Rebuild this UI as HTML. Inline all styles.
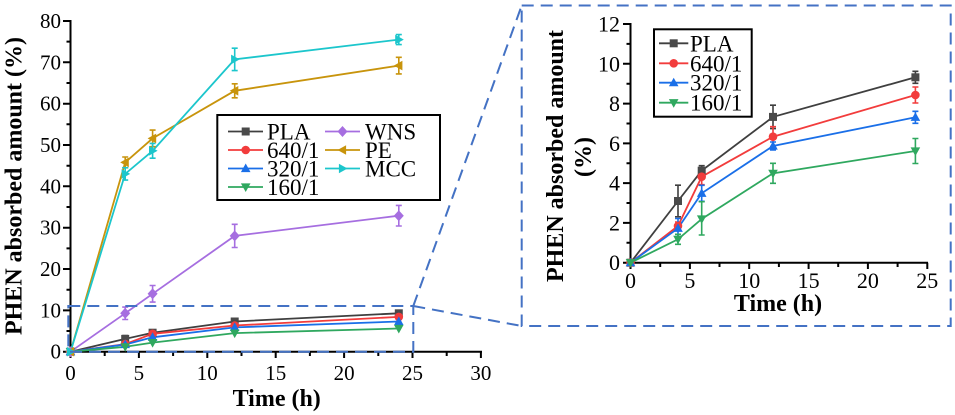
<!DOCTYPE html>
<html><head><meta charset="utf-8"><style>
html,body{margin:0;padding:0;background:#fff;}
svg{display:block;}
</style></head><body>
<svg width="955" height="415" viewBox="0 0 955 415" xmlns="http://www.w3.org/2000/svg" font-family="Liberation Serif, Noto Serif CJK SC, DejaVu Serif, serif">
<defs>
<rect id="sq" x="-4" y="-4" width="8" height="8"/>
<circle id="ci" r="4.3"/>
<polygon id="tu" points="0,-5 4.8,3.6 -4.8,3.6"/>
<polygon id="td" points="0,5 4.8,-3.6 -4.8,-3.6"/>
<polygon id="di" points="0,-5.5 5,0 0,5.5 -5,0"/>
<polygon id="tl" points="-5,0 3.6,-4.8 3.6,4.8"/>
<polygon id="tr" points="5,0 -3.6,-4.8 -3.6,4.8"/>
</defs>
<rect width="955" height="415" fill="#fff"/>

<!-- ================= LEFT CHART ================= -->
<g stroke="#000" stroke-width="2" fill="none">
<path d="M70.5 20 V352.7 M69.5 351.7 H482"/>
<path d="M63 351.7H70.5 M63 310.4H70.5 M63 269H70.5 M63 227.7H70.5 M63 186.3H70.5 M63 145H70.5 M63 103.7H70.5 M63 62.3H70.5 M63 21H70.5"/>
<path d="M66.5 331H70.5 M66.5 289.7H70.5 M66.5 248.4H70.5 M66.5 207H70.5 M66.5 165.7H70.5 M66.5 124.3H70.5 M66.5 83H70.5 M66.5 41.6H70.5"/>
<path d="M70.5 351.7V358 M138.9 351.7V358 M207.3 351.7V358 M275.7 351.7V358 M344.1 351.7V358 M412.5 351.7V358 M480.9 351.7V358"/>
<path d="M104.7 351.7V356 M173.1 351.7V356 M241.5 351.7V356 M309.9 351.7V356 M378.3 351.7V356 M446.7 351.7V356"/>
</g>
<g font-size="21" fill="#000" text-anchor="end">
<text x="61" y="358.7">0</text>
<text x="61" y="317.4">10</text>
<text x="61" y="276">20</text>
<text x="61" y="234.7">30</text>
<text x="61" y="193.3">40</text>
<text x="61" y="152">50</text>
<text x="61" y="110.7">60</text>
<text x="61" y="69.3">70</text>
<text x="61" y="28">80</text>
</g>
<g font-size="21" fill="#000" text-anchor="middle">
<text x="70.5" y="380">0</text>
<text x="138.9" y="380">5</text>
<text x="207.3" y="380">10</text>
<text x="275.7" y="380">15</text>
<text x="344.1" y="380">20</text>
<text x="412.5" y="380">25</text>
<text x="480.9" y="380">30</text>
</g>
<text x="276.7" y="406" font-size="24" font-weight="bold" text-anchor="middle">Time (h)</text>
<text transform="translate(21.5,186) rotate(-90)" font-size="24" font-weight="bold" text-anchor="middle">PHEN absorbed amount (%)</text>

<g fill="none" stroke-width="1.8">
<path stroke="#3f3f3f" d="M70.5 351.7 L125.2 338.9 L152.6 332.7 L234.7 321.5 L398.8 313.3"/>
<path stroke="#f23c3c" d="M70.5 351.7 L125.2 344.1 L152.6 333.8 L234.7 325.5 L398.8 316.9"/>
<path stroke="#1a6fe8" d="M70.5 351.7 L125.2 344.5 L152.6 337.3 L234.7 327.4 L398.8 321.5"/>
<path stroke="#2fa85f" d="M70.5 351.7 L125.2 346.8 L152.6 342.6 L234.7 333.1 L398.8 328.5"/>
<path stroke="#a66ee0" d="M70.5 351.7 L125.2 313.3 L152.6 293.8 L234.7 235.9 L398.8 215.7"/>
<path stroke="#c8940c" d="M70.5 351.7 L125.2 162.4 L152.6 138.4 L234.7 90.8 L398.8 65.6"/>
<path stroke="#1cc6cc" d="M70.5 351.7 L125.2 173.9 L152.6 150.8 L234.7 59.4 L398.8 39.6"/>
</g>
<g fill="none" stroke-width="1.6">
<path stroke="#3f3f3f" d="M125.2 335.6V342.2 M122.2 335.6H128.2 M122.2 342.2H128.2 M234.7 319.1V323.9 M231.7 319.1H237.7"/>
<path stroke="#a66ee0" d="M125.2 307.1V319.5 M122.2 307.1H128.2 M122.2 319.5H128.2 M152.6 285.5V302.1 M149.6 285.5H155.6 M149.6 302.1H155.6 M234.7 224.3V247.5 M231.7 224.3H237.7 M231.7 247.5H237.7 M398.8 205.4V226 M395.8 205.4H401.8 M395.8 226H401.8"/>
<path stroke="#c8940c" d="M125.2 157V167.8 M122.2 157H128.2 M122.2 167.8H128.2 M152.6 130.1V146.7 M149.6 130.1H155.6 M149.6 146.7H155.6 M234.7 83.8V97.8 M231.7 83.8H237.7 M231.7 97.8H237.7 M398.8 57.3V73.9 M395.8 57.3H401.8 M395.8 73.9H401.8"/>
<path stroke="#1cc6cc" d="M125.2 167.7V180.1 M122.2 167.7H128.2 M122.2 180.1H128.2 M152.6 143.4V158.2 M149.6 143.4H155.6 M149.6 158.2H155.6 M234.7 48.2V70.6 M231.7 48.2H237.7 M231.7 70.6H237.7 M398.8 34.6V44.6 M395.8 34.6H401.8 M395.8 44.6H401.8"/>
</g>
<g fill="#4a4a4a"><use href="#sq" x="70.5" y="351.7"/><use href="#sq" x="125.2" y="338.9"/><use href="#sq" x="152.6" y="332.7"/><use href="#sq" x="234.7" y="321.5"/><use href="#sq" x="398.8" y="313.3"/></g>
<g fill="#f23c3c"><use href="#ci" x="70.5" y="351.7"/><use href="#ci" x="125.2" y="344.1"/><use href="#ci" x="152.6" y="333.8"/><use href="#ci" x="234.7" y="325.5"/><use href="#ci" x="398.8" y="316.9"/></g>
<g fill="#1a6fe8"><use href="#tu" x="70.5" y="351.7"/><use href="#tu" x="125.2" y="344.5"/><use href="#tu" x="152.6" y="337.3"/><use href="#tu" x="234.7" y="327.4"/><use href="#tu" x="398.8" y="321.5"/></g>
<g fill="#2fa85f"><use href="#td" x="70.5" y="351.7"/><use href="#td" x="125.2" y="346.8"/><use href="#td" x="152.6" y="342.6"/><use href="#td" x="234.7" y="333.1"/><use href="#td" x="398.8" y="328.5"/></g>
<g fill="#a66ee0"><use href="#di" x="70.5" y="351.7"/><use href="#di" x="125.2" y="313.3"/><use href="#di" x="152.6" y="293.8"/><use href="#di" x="234.7" y="235.9"/><use href="#di" x="398.8" y="215.7"/></g>
<g fill="#c8940c"><use href="#tl" x="70.5" y="351.7"/><use href="#tl" x="125.2" y="162.4"/><use href="#tl" x="152.6" y="138.4"/><use href="#tl" x="234.7" y="90.8"/><use href="#tl" x="398.8" y="65.6"/></g>
<g fill="#1cc6cc"><use href="#tr" x="70.5" y="351.7"/><use href="#tr" x="125.2" y="173.9"/><use href="#tr" x="152.6" y="150.8"/><use href="#tr" x="234.7" y="59.4"/><use href="#tr" x="398.8" y="39.6"/></g>

<rect x="217.3" y="115" width="222.7" height="85" fill="#fff" stroke="#000" stroke-width="2"/>
<g stroke-width="1.8" fill="none">
<path stroke="#3f3f3f" d="M228 131.5H263"/>
<path stroke="#f23c3c" d="M228 150H263"/>
<path stroke="#1a6fe8" d="M228 168.5H263"/>
<path stroke="#2fa85f" d="M228 187H263"/>
<path stroke="#a66ee0" d="M325 131.5H360"/>
<path stroke="#c8940c" d="M325 150H360"/>
<path stroke="#1cc6cc" d="M325 168.5H360"/>
</g>
<use href="#sq" x="245.7" y="131.5" fill="#4a4a4a"/>
<use href="#ci" x="245.7" y="150" fill="#f23c3c"/>
<use href="#tu" x="245.7" y="168.5" fill="#1a6fe8"/>
<use href="#td" x="245.7" y="187" fill="#2fa85f"/>
<use href="#di" x="342.5" y="131.5" fill="#a66ee0"/>
<use href="#tl" x="342.5" y="150" fill="#c8940c"/>
<use href="#tr" x="342.5" y="168.5" fill="#1cc6cc"/>
<g font-size="23" fill="#000">
<text x="267" y="139.5">PLA</text>
<text x="267" y="158">640/1</text>
<text x="267" y="176.5">320/1</text>
<text x="267" y="195">160/1</text>
<text x="365" y="139.5">WNS</text>
<text x="365" y="158">PE</text>
<text x="365" y="176.5">MCC</text>
</g>

<!-- ================= RIGHT CHART ================= -->
<g stroke="#000" stroke-width="2" fill="none">
<path d="M630.5 23 V263.7 M629.5 262.7 H928"/>
<path d="M623 262.7H630.5 M623 222.9H630.5 M623 183.1H630.5 M623 143.4H630.5 M623 103.6H630.5 M623 63.8H630.5 M623 24H630.5"/>
<path d="M626.5 242.8H630.5 M626.5 203H630.5 M626.5 163.3H630.5 M626.5 123.5H630.5 M626.5 83.7H630.5 M626.5 43.9H630.5"/>
<path d="M630.5 262.7V269 M689.9 262.7V269 M749.2 262.7V269 M808.6 262.7V269 M867.9 262.7V269 M927.3 262.7V269"/>
<path d="M660.2 262.7V267 M719.5 262.7V267 M778.9 262.7V267 M838.2 262.7V267 M897.6 262.7V267"/>
</g>
<g font-size="22" fill="#000" text-anchor="end">
<text x="620" y="270.2">0</text>
<text x="620" y="230.4">2</text>
<text x="620" y="190.6">4</text>
<text x="620" y="150.9">6</text>
<text x="620" y="111.1">8</text>
<text x="620" y="71.3">10</text>
<text x="620" y="31.5">12</text>
</g>
<g font-size="22" fill="#000" text-anchor="middle">
<text x="630.5" y="288">0</text>
<text x="689.9" y="288">5</text>
<text x="749.2" y="288">10</text>
<text x="808.6" y="288">15</text>
<text x="867.9" y="288">20</text>
<text x="927.3" y="288">25</text>
</g>
<text x="778" y="311" font-size="24" font-weight="bold" text-anchor="middle">Time (h)</text>
<text transform="translate(563,156) rotate(-90)" font-size="24" font-weight="bold" text-anchor="middle">PHEN absorbed amount</text>
<text transform="translate(591,157) rotate(-90)" font-size="24" font-weight="bold" text-anchor="middle">(%)</text>

<g fill="none" stroke-width="1.8">
<path stroke="#3f3f3f" d="M630.5 262.7 L678 201 L701.7 170.7 L773 116.9 L915.4 77.3"/>
<path stroke="#f23c3c" d="M630.5 262.7 L678 226 L701.7 176.7 L773 136.7 L915.4 95"/>
<path stroke="#1a6fe8" d="M630.5 262.7 L678 228.3 L701.7 193.3 L773 146 L915.4 117.3"/>
<path stroke="#2fa85f" d="M630.5 262.7 L678 239.3 L701.7 219 L773 173.3 L915.4 151"/>
</g>
<g fill="none" stroke-width="1.6">
<path stroke="#3f3f3f" d="M678 185.2V216.8 M675 185.2H681 M675 216.8H681 M701.7 165.7V175.7 M698.7 165.7H704.7 M773 105.2V128.6 M770 105.2H776 M770 128.6H776 M915.4 71.3V83.3 M912.4 71.3H918.4 M912.4 83.3H918.4"/>
<path stroke="#f23c3c" d="M678 222V230 M675 222H681 M701.7 168.7V184.7 M698.7 168.7H704.7 M698.7 184.7H704.7 M773 126.7V146.7 M770 126.7H776 M770 146.7H776 M915.4 87V103 M912.4 87H918.4 M912.4 103H918.4"/>
<path stroke="#1a6fe8" d="M678 218.5V236.5 M675 218.5H681 M675 236.5H681 M701.7 185.3V201.3 M698.7 185.3H704.7 M698.7 201.3H704.7 M773 142V150 M770 142H776 M770 150H776 M915.4 111.3V123.3 M912.4 111.3H918.4 M912.4 123.3H918.4"/>
<path stroke="#2fa85f" d="M678 234.3V244.3 M675 234.3H681 M675 244.3H681 M701.7 201.7V235 M698.7 201.7H704.7 M698.7 235H704.7 M773 163.3V183.3 M770 163.3H776 M770 183.3H776 M915.4 138.5V163.5 M912.4 138.5H918.4 M912.4 163.5H918.4"/>
</g>
<g fill="#4a4a4a"><use href="#sq" x="630.5" y="262.7"/><use href="#sq" x="678" y="201"/><use href="#sq" x="701.7" y="170.7"/><use href="#sq" x="773" y="116.9"/><use href="#sq" x="915.4" y="77.3"/></g>
<g fill="#f23c3c"><use href="#ci" x="630.5" y="262.7"/><use href="#ci" x="678" y="226"/><use href="#ci" x="701.7" y="176.7"/><use href="#ci" x="773" y="136.7"/><use href="#ci" x="915.4" y="95"/></g>
<g fill="#1a6fe8"><use href="#tu" x="630.5" y="262.7"/><use href="#tu" x="678" y="228.3"/><use href="#tu" x="701.7" y="193.3"/><use href="#tu" x="773" y="146"/><use href="#tu" x="915.4" y="117.3"/></g>
<g fill="#2fa85f"><use href="#td" x="630.5" y="262.7"/><use href="#td" x="678" y="239.3"/><use href="#td" x="701.7" y="219"/><use href="#td" x="773" y="173.3"/><use href="#td" x="915.4" y="151"/></g>

<rect x="654" y="29.3" width="97.7" height="87.4" fill="#fff" stroke="#000" stroke-width="2"/>
<g stroke-width="1.8" fill="none">
<path stroke="#3f3f3f" d="M659 43.3H688.3"/>
<path stroke="#f23c3c" d="M659 63.3H688.3"/>
<path stroke="#1a6fe8" d="M659 82.7H688.3"/>
<path stroke="#2fa85f" d="M659 102.7H688.3"/>
</g>
<use href="#sq" x="673.7" y="43.3" fill="#4a4a4a"/>
<use href="#ci" x="673.7" y="63.3" fill="#f23c3c"/>
<use href="#tu" x="673.7" y="82.7" fill="#1a6fe8"/>
<use href="#td" x="673.7" y="102.7" fill="#2fa85f"/>
<g font-size="23" fill="#000">
<text x="690" y="51.3">PLA</text>
<text x="690" y="71.3">640/1</text>
<text x="690" y="90.7">320/1</text>
<text x="690" y="110.7">160/1</text>
</g>

<!-- ================= ZOOM DASHES ================= -->
<g fill="none" stroke="#4472c4" stroke-width="2" stroke-dasharray="12 7">
<rect x="68.3" y="306" width="345" height="45.7"/>
<path d="M413.3 306 L521.7 5.5"/>
<path d="M413.3 306 L521.7 326"/>
<rect x="521.7" y="5.5" width="429" height="320.5"/>
</g>
</svg>
</body></html>
